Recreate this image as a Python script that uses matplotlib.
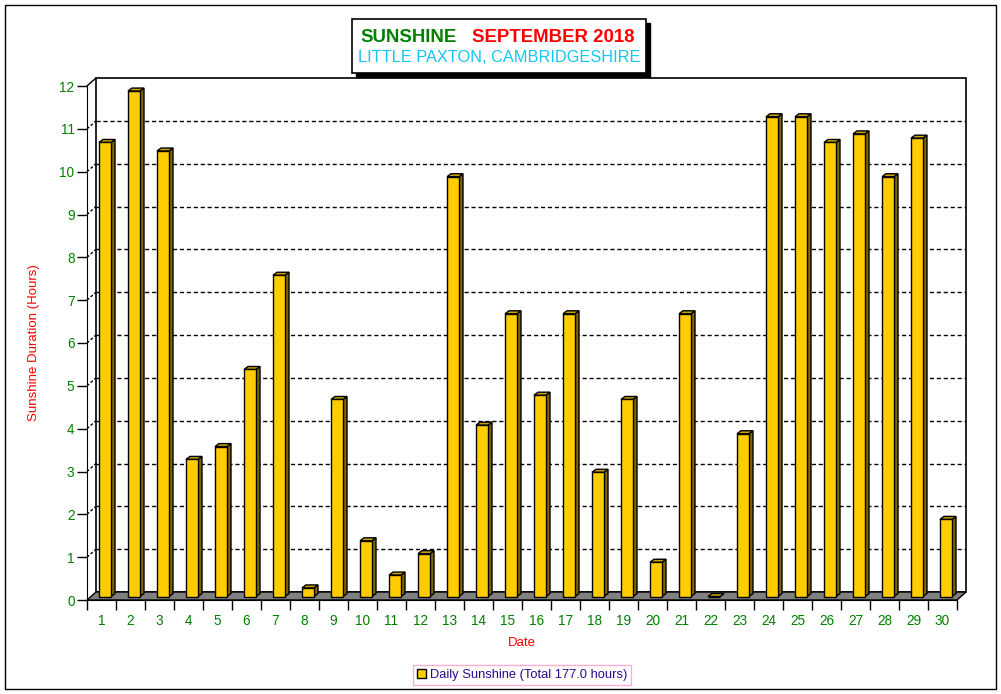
import matplotlib
matplotlib.use('Agg')
import matplotlib.pyplot as plt
from matplotlib.patches import Rectangle, Polygon, Patch
import numpy as np

plt.rcParams['font.family'] = ['Liberation Sans', 'DejaVu Sans']

# 数据
days = list(range(1, 31))
sunshine = [10.6, 11.8, 10.4, 3.2, 3.5, 5.3, 7.5, 0.2, 4.6, 1.3,
            0.5, 1.0, 9.8, 4.0, 6.6, 4.7, 6.6, 2.9, 4.6, 0.8,
            6.6, 0.0, 3.8, 11.2, 11.2, 10.6, 10.8, 9.8, 10.7, 1.8]
y_ticks = list(range(0, 13))
total = 177.0

W, H = 1001, 694
fig = plt.figure(figsize=(W / 100, H / 100), dpi=100)
fig.patch.set_facecolor('white')

# 前平面 (像素)
left_px, right_px = 87, 957
bottom_px, top_px = 600, 86
ax = fig.add_axes([left_px / W, 1 - bottom_px / H, (right_px - left_px) / W, (bottom_px - top_px) / H])
ax.set_xlim(0.5, 30.5)
ax.set_ylim(0, 12)
ax.patch.set_alpha(0)

xpx = (right_px - left_px) / 30.0
ypx = (bottom_px - top_px) / 12.0

# 3D 偏移
dx, dy = 9 / xpx, 8 / ypx
bx, bw, b0 = 3.5 / xpx, 12 / xpx, 3.5 / ypx
dxb, dyb = 4 / xpx, 3 / ypx

# 背墙
ax.add_patch(Rectangle((0.5 + dx, dy), 30, 12, facecolor='white', edgecolor='black',
                       lw=1.2, clip_on=False, zorder=0))
for v in y_ticks[1:-1]:
    ax.plot([0.5 + dx, 30.5 + dx], [v + dy, v + dy], color='black', lw=1,
            linestyle=(0, (3, 2)), clip_on=False, zorder=1)
    ax.plot([0.5, 0.5 + dx], [v, v + dy], color='black', lw=1,
            linestyle=(0, (2, 1.5)), clip_on=False, zorder=1)
ax.plot([0.5, 0.5 + dx], [12, 12 + dy], color='black', lw=1, clip_on=False, zorder=1)

# 地板
floor = Polygon([(0.5, 0), (30.5, 0), (30.5 + dx, dy), (0.5 + dx, dy)], closed=True,
                facecolor='#808080', edgecolor='black', lw=1, clip_on=False, zorder=2)
ax.add_patch(floor)

# 柱子
x = np.array(days, dtype=float)
vals = np.array(sunshine)
ax.bar(x + bx, vals, width=bw, bottom=b0, color='#FFCC00', edgecolor='black',
       linewidth=1, zorder=4, clip_on=False)
for xi, v in zip(x, vals):
    x0 = xi + bx - bw / 2
    x1 = xi + bx + bw / 2
    side = Polygon([(x1, b0), (x1 + dxb, b0 + dyb), (x1 + dxb, b0 + v + dyb), (x1, b0 + v)],
                   closed=True, facecolor='#7F6600', edgecolor='black', lw=1,
                   clip_on=False, zorder=3)
    top = Polygon([(x0, b0 + v), (x1, b0 + v), (x1 + dxb, b0 + v + dyb), (x0 + dxb, b0 + v + dyb)],
                  closed=True, facecolor='#C9A100', edgecolor='black', lw=1,
                  clip_on=False, zorder=3)
    ax.add_patch(side)
    ax.add_patch(top)

# 坐标轴
for s in ['top', 'right']:
    ax.spines[s].set_visible(False)
ax.spines['left'].set_zorder(5)
ax.spines['bottom'].set_zorder(5)
ax.set_yticks(y_ticks)
ax.set_yticklabels([str(t) for t in y_ticks])
ax.tick_params(axis='y', direction='out', length=7, width=1, colors='black',
               labelcolor='#008000', labelsize=9.8, pad=2)
ax.set_xticks(np.arange(0.5, 31, 1))
ax.set_xticklabels([])
ax.set_xticks(days, minor=True)
ax.set_xticklabels([str(d) for d in days], minor=True)
ax.tick_params(axis='x', which='major', direction='out', length=7, width=1)
ax.tick_params(axis='x', which='minor', length=0, pad=10, labelcolor='#008000', labelsize=9.8)

ax.set_xlabel('Date', color='#FF0000', fontsize=9.5, labelpad=6.5)
ax.set_ylabel('Sunshine Duration (Hours)', color='#FF0000', fontsize=9.5, labelpad=14)

# 外框
fig.patches.append(Rectangle((5 / W, 1 - 689 / H), 991 / W, 684 / H, transform=fig.transFigure,
                             fill=False, edgecolor='black', lw=1))

# 标题框
bx0, by0, bx1, by1 = 352, 19, 646, 73
fig.patches.append(Rectangle(((bx0 + 4) / W, 1 - (by1 + 4) / H), (bx1 - bx0) / W, (by1 - by0) / H,
                             transform=fig.transFigure, facecolor='black', edgecolor='black', lw=1))
fig.patches.append(Rectangle((bx0 / W, 1 - by1 / H), (bx1 - bx0) / W, (by1 - by0) / H,
                             transform=fig.transFigure, facecolor='white', edgecolor='black', lw=1.2))
fig.text(360 / W, 1 - 37 / H, 'SUNSHINE', color='#008000', fontsize=13.4, fontweight='bold',
         ha='left', va='center')
fig.text(472 / W, 1 - 37 / H, 'SEPTEMBER 2018', color='#FF0000', fontsize=13.4, fontweight='bold',
         ha='left', va='center')
fig.text(499.5 / W, 1 - 58 / H, 'LITTLE PAXTON, CAMBRIDGESHIRE', color='#12C6F2', fontsize=11.8,
         ha='center', va='center')

# 图例
handle = Patch(facecolor='#FFCC00', edgecolor='black', lw=1)
leg = fig.legend([handle], ['Daily Sunshine (Total {:.1f} hours)'.format(total)],
                 loc='center', bbox_to_anchor=(522 / W, 1 - 675 / H), fancybox=False,
                 edgecolor='#FF99CC', fontsize=9.3, labelcolor='#2A0A8C',
                 handlelength=0.7, handleheight=0.7, handletextpad=0.3,
                 borderpad=0.3, borderaxespad=0)
leg.get_frame().set_linewidth(1)

fig.savefig('out.png', dpi=100, facecolor='white')
